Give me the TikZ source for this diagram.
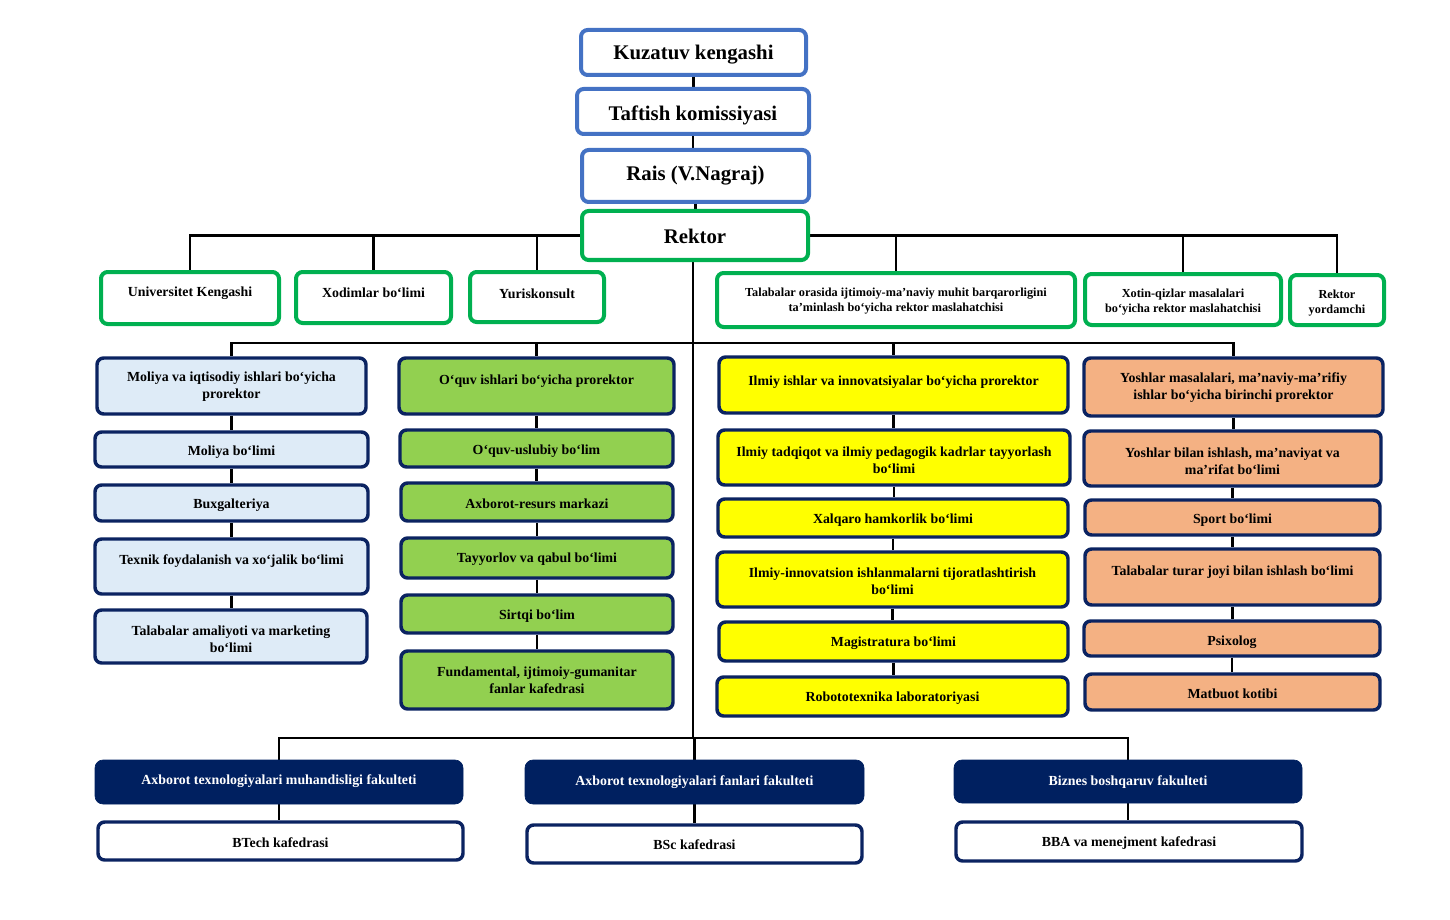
\documentclass[tikz,border=0pt]{standalone}
\usepackage{fontspec}
\setmainfont{Liberation Serif}
\usetikzlibrary{fit,backgrounds}
\definecolor{bblue}{HTML}{4472C4}
\definecolor{gborder}{HTML}{00B050}
\definecolor{navy}{HTML}{0B2361}
\definecolor{facnavy}{HTML}{002060}
\definecolor{lblue}{HTML}{DEEBF7}
\definecolor{lgreen}{HTML}{92D050}
\definecolor{yel}{HTML}{FFFF00}
\definecolor{orng}{HTML}{F4B183}
\newcommand\bx[9]{%
  \node[#2, fit={(#3,#4)(#5,#6)}, inner sep=0pt] (#1) {};
  \node[#8] (#1t) at ({(#3+#5)/2},#7) {#9};}
\begin{document}
\begin{tikzpicture}[x=0.75pt,y=-0.75pt,
  topb/.style={rounded corners=5pt, line width=3pt, draw=bblue, fill=white},
  grnb/.style={rounded corners=5pt, line width=3pt, draw=gborder, fill=white},
  cola/.style={rounded corners=5pt, line width=2.6pt, draw=navy, fill=lblue},
  colb/.style={rounded corners=5pt, line width=2.6pt, draw=navy, fill=lgreen},
  colc/.style={rounded corners=5pt, line width=2.6pt, draw=navy, fill=yel},
  cold/.style={rounded corners=5pt, line width=2.6pt, draw=navy, fill=orng},
  fac/.style={rounded corners=6pt, line width=0.5pt, draw=facnavy, fill=facnavy},
  kaf/.style={rounded corners=5pt, line width=2.6pt, draw=navy, fill=white},
  txt/.style={inner sep=0pt, align=center, yshift=-1.4pt, font=\bfseries\fontsize{10.4}{12.75}\selectfont},
  stxt/.style={inner sep=0pt, align=center, yshift=-1.2pt, font=\bfseries\fontsize{9.2}{11.25}\selectfont},
  big/.style={inner sep=0pt, align=center, yshift=-2.2pt, font=\bfseries\fontsize{15.6}{18}\selectfont},
  wtxt/.style={txt, text=white},
  conn/.style={line width=1.9pt, draw=black}]
\useasboundingbox (0,0) rectangle (1450,920);
\coordinate (midbus) at (693,343);
\coordinate (botbus) at (693,738);
% top chain
\bx{kz}{topb}{581}{30}{806}{75}{52}{big}{Kuzatuv kengashi}
\bx{tf}{topb}{577}{89}{809}{134}{112}{big}{Taftish komissiyasi}
\bx{rais}{topb}{582}{150}{809}{202}{173}{big}{Rais (V.Nagraj)}
\bx{rek}{grnb}{582}{211}{808}{260}{233}{big}{Rektor}
% row 2
\bx{uk}{grnb}{101}{272}{279}{324}{291}{txt}{Universitet Kengashi}
\bx{xb}{grnb}{296}{272}{451}{323}{291}{txt}{Xodimlar bo‘limi}
\bx{yu}{grnb}{470}{272}{604}{322}{292}{txt}{Yuriskonsult}
\bx{tal}{grnb}{717}{273}{1075}{327}{299.5}{stxt}{Talabalar orasida ijtimoiy-ma’naviy muhit barqarorligini\\ta’minlash bo‘yicha rektor maslahatchisi}
\bx{xq}{grnb}{1085}{274}{1281}{325}{300.5}{stxt}{Xotin-qizlar masalalari\\bo‘yicha rektor maslahatchisi}
\bx{ry}{grnb}{1290}{275}{1384}{325}{301.5}{stxt}{Rektor\\yordamchi}
% column 1
\bx{a1}{cola}{97}{358}{366}{414}{384.5}{txt}{Moliya va iqtisodiy ishlari bo‘yicha\\prorektor}
\bx{a2}{cola}{95}{432}{368}{467}{450}{txt}{Moliya bo‘limi}
\bx{a3}{cola}{95}{485}{368}{521}{503}{txt}{Buxgalteriya}
\bx{a4}{cola}{95}{539}{368}{594}{559}{txt}{Texnik foydalanish va xo‘jalik bo‘limi}
\bx{a5}{cola}{95}{610}{367}{663}{637.5}{txt}{Talabalar amaliyoti va marketing\\bo‘limi}
% column 2
\bx{b1}{colb}{399}{358}{674}{414}{379}{txt}{O‘quv ishlari bo‘yicha prorektor}
\bx{b2}{colb}{400}{430}{673}{467}{449}{txt}{O‘quv-uslubiy bo‘lim}
\bx{b3}{colb}{401}{483}{673}{521}{502}{txt}{Axborot-resurs markazi}
\bx{b4}{colb}{401}{538}{673}{578}{557}{txt}{Tayyorlov va qabul bo‘limi}
\bx{b5}{colb}{401}{595}{673}{633}{614}{txt}{Sirtqi bo‘lim}
\bx{b6}{colb}{401}{651}{673}{709}{678.5}{txt}{Fundamental, ijtimoiy-gumanitar\\fanlar kafedrasi}
% column 3
\bx{c1}{colc}{719}{357}{1068}{413}{380}{txt}{Ilmiy ishlar va innovatsiyalar bo‘yicha prorektor}
\bx{c2}{colc}{718}{430}{1070}{485}{458.5}{txt}{Ilmiy tadqiqot va ilmiy pedagogik kadrlar tayyorlash\\bo‘limi}
\bx{c3}{colc}{718}{499}{1068}{537}{518}{txt}{Xalqaro hamkorlik bo‘limi}
\bx{c4}{colc}{717}{552}{1068}{607}{579.5}{txt}{Ilmiy-innovatsion ishlanmalarni tijoratlashtirish\\bo‘limi}
\bx{c5}{colc}{719}{622}{1068}{661}{641}{txt}{Magistratura bo‘limi}
\bx{c6}{colc}{717}{677}{1068}{716}{696}{txt}{Robototexnika laboratoriyasi}
% column 4
\bx{d1}{cold}{1084}{358}{1383}{416}{385.5}{txt}{Yoshlar masalalari, ma’naviy-ma’rifiy\\ishlar bo‘yicha birinchi prorektor}
\bx{d2}{cold}{1084}{431}{1381}{486}{459.5}{txt}{Yoshlar bilan ishlash, ma’naviyat va\\ma’rifat bo‘limi}
\bx{d3}{cold}{1085}{500}{1380}{535}{518}{txt}{Sport bo‘limi}
\bx{d4}{cold}{1085}{549}{1380}{605}{570}{txt}{Talabalar turar joyi bilan ishlash bo‘limi}
\bx{d5}{cold}{1084}{621}{1380}{656}{640}{txt}{Psixolog}
\bx{d6}{cold}{1085}{674}{1380}{710}{692}{txt}{Matbuot kotibi}
% faculties
\bx{f1}{fac}{95}{760}{463}{804}{779}{wtxt}{Axborot texnologiyalari muhandisligi fakulteti}
\bx{f2}{fac}{525}{760}{864}{804}{780}{wtxt}{Axborot texnologiyalari fanlari fakulteti}
\bx{f3}{fac}{954}{760}{1302}{803}{780}{wtxt}{Biznes boshqaruv fakulteti}
\bx{k1}{kaf}{98}{822}{463}{860}{841}{txt}{BTech kafedrasi}
\bx{k2}{kaf}{527}{825}{862}{863}{843}{txt}{BSc kafedrasi}
\bx{k3}{kaf}{956}{822}{1302}{861}{841}{txt}{BBA va menejment kafedrasi}
% connectors (behind boxes)
\begin{scope}[on background layer]
\draw[conn] (kz.south) -- (kz.south |- tf.north);
\draw[conn] (tf.south) -- (tf.south |- rais.north);
\draw[conn] (rais.south) -- (rais.south |- rek.north);
\draw[conn] (rek.west) -| (uk.north);
\draw[conn] (rek.west) -| (xb.north);
\draw[conn] (rek.west) -| (yu.north);
\draw[conn] (rek.east) -| (tal.north);
\draw[conn] (rek.east) -| (xq.north);
\draw[conn] (rek.east) -| (ry.north);
\draw[conn] (botbus |- rek.south) -- (botbus);
\draw[conn] (midbus) -| (a1.north);
\draw[conn] (midbus) -| (b1.north);
\draw[conn] (midbus) -| (c1.north);
\draw[conn] (midbus) -| (d1.north);
\foreach \p/\q in {a1/a2,a2/a3,a3/a4,a4/a5,b1/b2,b2/b3,b3/b4,b4/b5,b5/b6,c1/c2,c2/c3,c3/c4,c4/c5,c5/c6,d1/d2,d2/d3,d3/d4,d4/d5,d5/d6,f1/k1,f2/k2,f3/k3}
  \draw[conn] (\p.south) -- (\p.south |- \q.north);
\draw[conn] (botbus) -| (f1.north);
\draw[conn] (botbus) -| (f2.north);
\draw[conn] (botbus) -| (f3.north);
\end{scope}
\end{tikzpicture}
\end{document}
